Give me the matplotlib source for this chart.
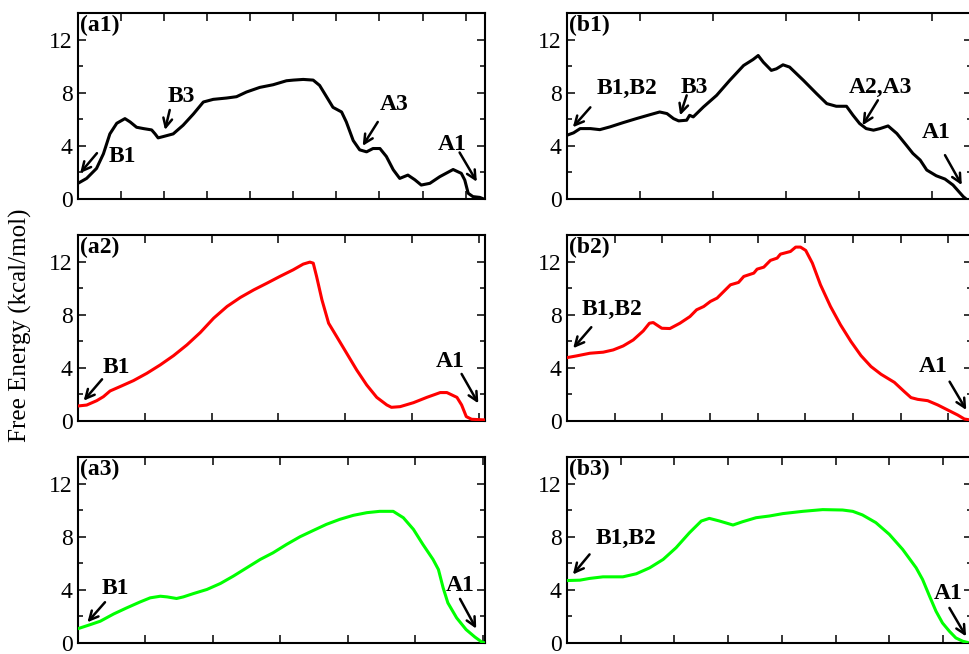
import matplotlib
matplotlib.use("Agg")
import matplotlib.pyplot as plt
from matplotlib.ticker import MultipleLocator, NullFormatter

plt.rcParams['font.family'] = ['Liberation Serif', 'DejaVu Serif']

# ---- data (reaction coordinate, free energy in kcal/mol) ----
a1_x = [0.0, 0.2, 0.43, 0.59, 0.74, 0.9, 1.09, 1.21, 1.36, 1.52, 1.71, 1.79, 1.86, 1.98, 2.21,
        2.44, 2.68, 2.91, 3.14, 3.45, 3.68, 3.91, 4.22, 4.53, 4.84, 5.0, 5.23, 5.46, 5.61, 5.77,
        5.92, 6.12, 6.23, 6.39, 6.54, 6.7, 6.85, 7.01, 7.16, 7.32, 7.47, 7.66, 7.82, 7.97, 8.17,
        8.4, 8.71, 8.9, 8.98, 9.06, 9.17, 9.33, 9.42]
a1_y = [1.18, 1.55, 2.3, 3.4, 4.9, 5.7, 6.05, 5.8, 5.4, 5.3, 5.2, 4.9, 4.6, 4.7, 4.9,
        5.55, 6.4, 7.3, 7.5, 7.6, 7.7, 8.05, 8.4, 8.6, 8.9, 8.95, 9.0, 8.95, 8.55, 7.7,
        6.9, 6.55, 5.8, 4.4, 3.7, 3.55, 3.8, 3.8, 3.2, 2.2, 1.55, 1.8, 1.45, 1.05, 1.18,
        1.68, 2.22, 1.93, 1.43, 0.43, 0.18, 0.12, 0.0]

b1_x = [0.0, 0.09, 0.18, 0.32, 0.45, 0.59, 0.77, 0.95, 1.14, 1.27, 1.37, 1.46, 1.53, 1.64,
        1.68, 1.73, 1.87, 2.05, 2.23, 2.42, 2.55, 2.62, 2.69, 2.8, 2.87, 2.96, 3.05, 3.24,
        3.42, 3.56, 3.69, 3.83, 3.92, 4.01, 4.1, 4.2, 4.29, 4.4, 4.52, 4.65, 4.74, 4.84,
        4.93, 5.06, 5.18, 5.29, 5.43, 5.47]
b1_y = [4.8, 4.98, 5.3, 5.3, 5.22, 5.43, 5.75, 6.05, 6.35, 6.55, 6.43, 6.05, 5.88, 5.93,
        6.3, 6.18, 6.93, 7.8, 8.93, 10.05, 10.5, 10.8, 10.3, 9.68, 9.8, 10.1, 9.93, 8.93,
        7.93, 7.18, 6.98, 6.98, 6.3, 5.68, 5.3, 5.18, 5.3, 5.5, 4.93, 4.05, 3.43, 2.93,
        2.18, 1.75, 1.5, 1.05, 0.18, 0.0]

a2_x = [0.0, 0.13, 0.28, 0.38, 0.48, 0.63, 0.83, 1.03, 1.23, 1.43, 1.63, 1.83, 2.03, 2.23,
        2.43, 2.63, 2.83, 3.02, 3.22, 3.37, 3.47, 3.52, 3.57, 3.65, 3.75, 3.87, 4.02, 4.17,
        4.32, 4.47, 4.62, 4.69, 4.82, 5.02, 5.22, 5.42, 5.52, 5.67, 5.74, 5.81, 5.89, 6.09]
a2_y = [1.13, 1.2, 1.53, 1.83, 2.26, 2.59, 3.04, 3.59, 4.22, 4.92, 5.73, 6.66, 7.74, 8.62,
        9.3, 9.87, 10.38, 10.88, 11.38, 11.81, 11.96, 11.88, 10.88, 9.12, 7.36, 6.36, 5.1, 3.84,
        2.71, 1.78, 1.21, 1.03, 1.08, 1.38, 1.78, 2.14, 2.14, 1.78, 1.21, 0.33, 0.13, 0.08]

b2_x = [0.0, 0.2, 0.48, 0.76, 0.97, 1.18, 1.39, 1.6, 1.73, 1.81, 1.88, 1.99, 2.16, 2.37, 2.58,
        2.72, 2.87, 3.01, 3.15, 3.29, 3.43, 3.6, 3.71, 3.92, 3.99, 4.13, 4.27, 4.41, 4.48, 4.69,
        4.8, 4.9, 5.01, 5.15, 5.32, 5.53, 5.74, 5.96, 6.17, 6.38, 6.59, 6.87, 7.08, 7.22, 7.36,
        7.57, 7.78, 7.99, 8.2, 8.34, 8.46]
b2_y = [4.77, 4.9, 5.1, 5.18, 5.35, 5.65, 6.1, 6.78, 7.36, 7.41, 7.24, 6.98, 6.96, 7.36, 7.86,
        8.37, 8.62, 9.0, 9.25, 9.75, 10.25, 10.43, 10.88, 11.13, 11.43, 11.58, 12.09, 12.26, 12.56,
        12.76, 13.09, 13.09, 12.84, 11.88, 10.25, 8.62, 7.24, 5.98, 4.92, 4.1, 3.52, 2.91, 2.21,
        1.76, 1.63, 1.53, 1.21, 0.83, 0.45, 0.15, 0.08]

a3_x = [0.0, 0.18, 0.33, 0.53, 0.72, 0.92, 1.07, 1.22, 1.32, 1.46, 1.56, 1.71, 1.91, 2.11,
        2.3, 2.5, 2.7, 2.89, 3.09, 3.29, 3.49, 3.68, 3.88, 4.08, 4.28, 4.47, 4.67, 4.82, 4.97,
        5.11, 5.26, 5.34, 5.41, 5.48, 5.61, 5.75, 5.88, 5.98, 6.03]
a3_y = [1.08, 1.38, 1.64, 2.19, 2.64, 3.09, 3.4, 3.52, 3.47, 3.35, 3.47, 3.72, 4.03, 4.48,
        5.03, 5.66, 6.29, 6.79, 7.42, 8.0, 8.48, 8.93, 9.31, 9.61, 9.81, 9.91, 9.91, 9.43, 8.55,
        7.42, 6.29, 5.53, 4.15, 3.02, 1.89, 1.01, 0.45, 0.08, 0.0]

b3_x = [0.0, 0.24, 0.42, 0.67, 0.86, 1.04, 1.29, 1.54, 1.79, 2.03, 2.28, 2.5, 2.65, 2.84,
        3.09, 3.27, 3.52, 3.77, 4.02, 4.39, 4.76, 5.13, 5.32, 5.5, 5.75, 6.0, 6.25, 6.5, 6.62,
        6.75, 6.87, 6.99, 7.12, 7.24, 7.37, 7.45]
b3_y = [4.7, 4.73, 4.86, 4.98, 4.98, 4.98, 5.21, 5.66, 6.29, 7.17, 8.3, 9.18, 9.38, 9.18,
        8.88, 9.13, 9.43, 9.56, 9.74, 9.91, 10.04, 10.01, 9.91, 9.64, 9.06, 8.18, 7.04, 5.66,
        4.78, 3.52, 2.39, 1.51, 0.88, 0.38, 0.13, 0.05]

panel_tags = ["(a1)", "(b1)", "(a2)", "(b2)", "(a3)", "(b3)"]

# annotations: (label, text_xy, arrow_tail, arrow_tip)
a1_notes = [("B1", (1.02, 3.2), (0.44, 3.45), (0.05, 1.95)),
            ("B3", (2.41, 7.7), (2.13, 6.7), (2.02, 5.2)),
            ("A3", (7.35, 7.1), (6.96, 5.8), (6.61, 4.0)),
            ("A1", (8.68, 4.1), (8.86, 3.5), (9.26, 1.3))]
b1_notes = [("B1,B2", (0.82, 8.33), (0.32, 6.9), (0.08, 5.4)),
            ("B3", (1.75, 8.4), (1.64, 7.8), (1.55, 6.3)),
            ("A2,A3", (4.3, 8.4), (4.26, 7.43), (4.05, 5.55)),
            ("A1", (5.06, 5.0), (5.18, 3.3), (5.41, 1.05))]
a2_notes = [("B1", (0.57, 4.05), (0.36, 3.14), (0.085, 1.53)),
            ("A1", (5.57, 4.47), (5.74, 3.54), (5.99, 1.33))]
b2_notes = [("B1,B2", (0.95, 8.42), (0.51, 7.06), (0.13, 5.48)),
            ("A1", (7.68, 4.1), (8.03, 2.96), (8.38, 0.83))]
a3_notes = [("B1", (0.56, 4.08), (0.4, 3.07), (0.14, 1.56)),
            ("A1", (5.66, 4.35), (5.66, 3.32), (5.9, 1.08))]
b3_notes = [("B1,B2", (1.1, 7.87), (0.42, 6.67), (0.11, 5.16)),
            ("A1", (7.09, 3.72), (7.12, 2.64), (7.43, 0.5))]

panels = [
    (a1_x, a1_y, 'black', a1_notes, 9.45),
    (b1_x, b1_y, 'black', b1_notes, 5.55),
    (a2_x, a2_y, '#ff0000', a2_notes, 6.09),
    (b2_x, b2_y, '#ff0000', b2_notes, 8.5),
    (a3_x, a3_y, '#00ff00', a3_notes, 6.03),
    (b3_x, b3_y, '#00ff00', b3_notes, 7.54),
]

W, H = 969, 654
fig = plt.figure(figsize=(W / 100, H / 100), dpi=100)

lefts = [78 / W, 567 / W]
widths = [407 / W, 405 / W]
bottoms = [1 - 199 / H, 1 - 421 / H, 1 - 643 / H]
height = 186 / H

for i, (x, y, color, notes, xmax) in enumerate(panels):
    row, col = divmod(i, 2)
    ax = fig.add_axes([lefts[col], bottoms[row], widths[col], height])
    ax.plot(x, y, color=color, lw=2.2, zorder=3)
    ax.set_xlim(0, xmax)
    ax.set_ylim(0, 14)
    ax.xaxis.set_major_locator(MultipleLocator(1))
    ax.xaxis.set_major_formatter(NullFormatter())
    ax.yaxis.set_major_locator(MultipleLocator(4))
    ax.yaxis.set_minor_locator(MultipleLocator(2))
    ax.tick_params(which='both', direction='in', top=True, right=True, width=1.1)
    ax.tick_params(which='major', length=6)
    ax.tick_params(which='minor', length=3.5)
    ax.tick_params(axis='y', labelsize=17, pad=4)
    for s in ax.spines.values():
        s.set_linewidth(1.5)
    ax.text(0.006, 0.99, panel_tags[i], transform=ax.transAxes, ha='left', va='top',
            fontsize=17, fontweight='bold')
    for label, txy, tail, tip in notes:
        ax.text(txy[0], txy[1], label, ha='center', va='center', fontsize=17,
                fontweight='bold', zorder=4)
        ax.annotate('', xy=tip, xytext=tail,
                    arrowprops=dict(arrowstyle='->', lw=1.8, color='black',
                                    mutation_scale=16, shrinkA=0, shrinkB=0))

fig.text(0.021, 0.503, 'Free Energy (kcal/mol)', rotation=90, ha='center', va='center',
         fontsize=18)

fig.savefig('out.png', dpi=100)
